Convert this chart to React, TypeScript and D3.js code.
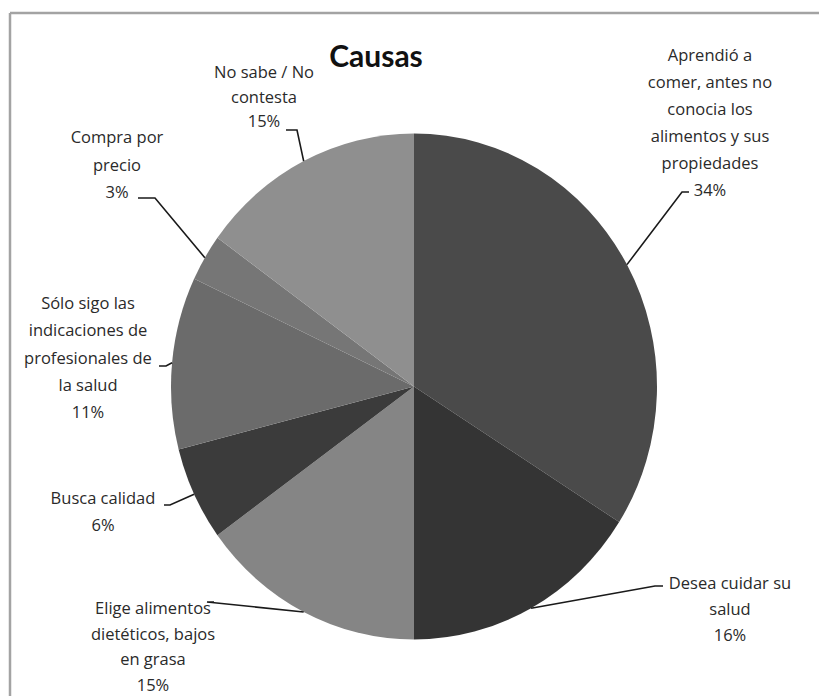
import React from "react";
import * as d3 from "d3";

const categories = [
  "Aprendió a comer, antes no conocia los alimentos y sus propiedades",
  "Desea cuidar su salud",
  "Elige alimentos dietéticos, bajos en grasa",
  "Busca calidad",
  "Sólo sigo las indicaciones de profesionales de la salud",
  "Compra por precio",
  "No sabe / No contesta",
];
const values = [34, 16, 15, 6, 11, 3, 15];
const labelLines = [
  ["Aprendió a", "comer, antes no", "conocia los", "alimentos y sus", "propiedades"],
  ["Desea cuidar su", "salud"],
  ["Elige alimentos", "dietéticos, bajos", "en grasa"],
  ["Busca calidad"],
  ["Sólo sigo las", "indicaciones de", "profesionales de", "la salud"],
  ["Compra por", "precio"],
  ["No sabe / No", "contesta"],
];
const title = "Causas";

// layout (not data)
const fills = ["#4a4a4a", "#343434", "#858585", "#3b3b3b", "#6b6b6b", "#767676", "#8f8f8f"];
const labelLayout = [
  { x: 710, y: 61, lh: 27, elbow: [682, 192], end: [689, 192] },
  { x: 730, y: 589, lh: 26, elbow: [655, 586], end: [663, 586] },
  { x: 153, y: 614, lh: 25.5, elbow: [207, 602], end: [214, 602] },
  { x: 103, y: 504, lh: 27, elbow: [170, 505], end: [164, 505] },
  { x: 88, y: 309, lh: 27.3, elbow: [166, 366], end: [159, 366] },
  { x: 117, y: 143, lh: 27.5, elbow: [155, 198], end: [138, 198] },
  { x: 264, y: 78, lh: 24.5, elbow: [297, 130], end: [286, 130] },
];

const W = 819;
const H = 696;
const cx = 414;
const cy = 386.5;
const rx = 243;
const ry = 253;

export default function App() {
  const pie = d3.pie<number>().sort(null).value((d) => d);
  const arcs = pie(values);
  const arc = d3.arc<d3.PieArcDatum<number>>().innerRadius(0).outerRadius(rx);
  const total = d3.sum(values);
  const font = "'Open Sans', sans-serif";

  return (
    <div style={{ position: "absolute", left: 0, top: 0 }}>
      <svg width={W} height={H} style={{ display: "block", background: "#fff" }}>
        <line x1={10} y1={13} x2={W} y2={13} stroke="#a3a3a3" strokeWidth={2.5} />
        <line x1={10} y1={13} x2={10} y2={H} stroke="#a3a3a3" strokeWidth={2.5} />
        <g transform={`translate(${cx},${cy}) scale(1,${ry / rx})`}>
          {arcs.map((a, i) => (
            <path key={i} d={arc(a) || ""} fill={fills[i]} stroke="none">
              <title>{categories[i]}</title>
            </path>
          ))}
        </g>
        <text x={376} y={67} textAnchor="middle" fontFamily="Lato, sans-serif" fontWeight="bold" fontSize={30} fill="#111">
          {title}
        </text>
        {arcs.map((a, i) => {
          const mid = (a.startAngle + a.endAngle) / 2;
          const px = cx + rx * Math.sin(mid);
          const py = cy - ry * Math.cos(mid);
          const L = labelLayout[i];
          const pct = `${Math.round((values[i] / total) * 100)}%`;
          const lines = [...labelLines[i], pct];
          return (
            <g key={i}>
              <polyline
                points={`${px},${py} ${L.elbow[0]},${L.elbow[1]} ${L.end[0]},${L.end[1]}`}
                fill="none"
                stroke="#1a1a1a"
                strokeWidth={1.6}
              />
              <text textAnchor="middle" fontFamily={font} fontSize={16.5} fill="#2a2a2a">
                {lines.map((t, j) => (
                  <tspan key={j} x={L.x} y={L.y + j * L.lh}>
                    {t}
                  </tspan>
                ))}
              </text>
            </g>
          );
        })}
      </svg>
    </div>
  );
}
